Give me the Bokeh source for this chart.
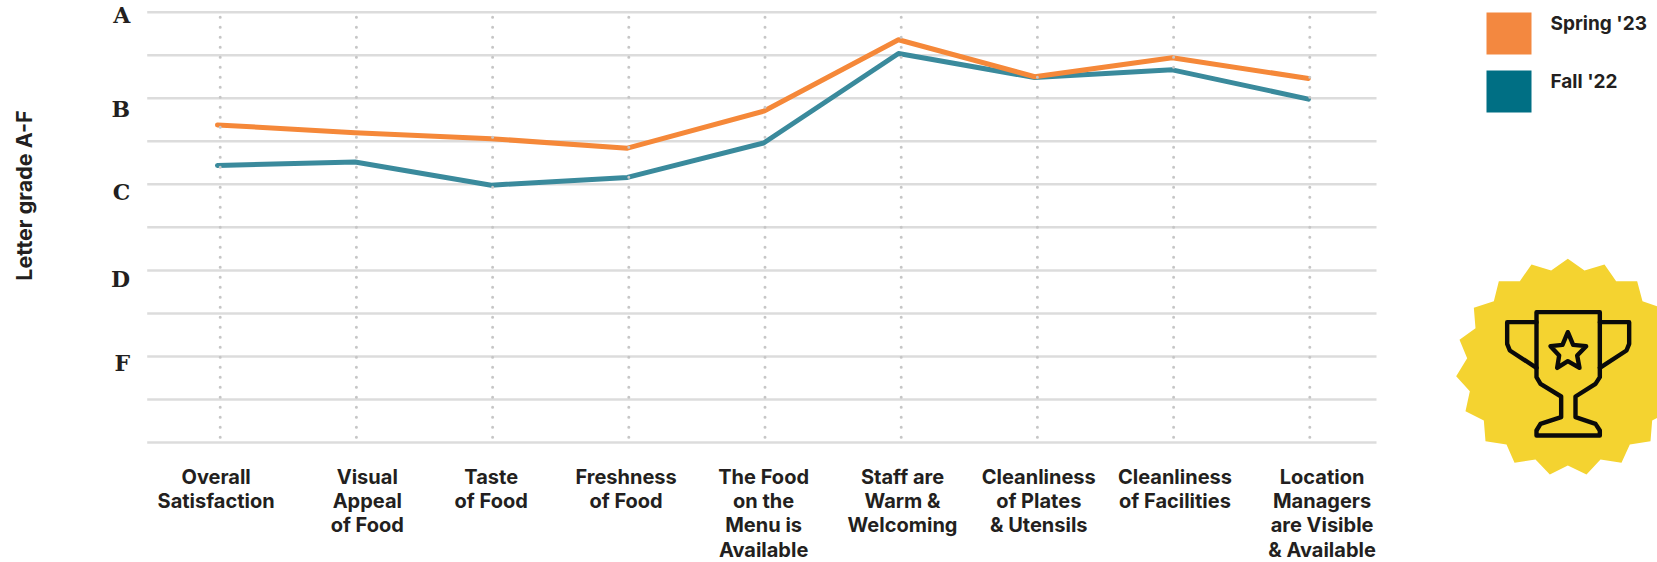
from math import pi
from bokeh.plotting import figure
from bokeh.embed import file_html
from bokeh.resources import INLINE
from bokeh.models import LinearAxis, FixedTicker, Range1d, Label

categories = ["Overall\nSatisfaction", "Visual\nAppeal\nof Food", "Taste\nof Food", "Freshness\nof Food",
              "The Food\non the\nMenu is\nAvailable", "Staff are\nWarm &\nWelcoming",
              "Cleanliness\nof Plates\n& Utensils", "Cleanliness\nof Facilities",
              "Location\nManagers\nare Visible\n& Available"]
category_x = [0, 1, 2, 3, 4, 5, 6, 7, 8]
label_x = [-0.03, 1.08, 1.99, 2.98, 3.99, 5.01, 6.01, 7.01, 8.09]
line_x = [-0.02, 0.99, 1.99, 2.99, 3.99, 4.98, 5.98, 6.99, 7.99]
spring_23 = [2.69, 2.60, 2.53, 2.42, 2.85, 3.68, 3.25, 3.47, 3.23]
fall_22 = [2.22, 2.26, 1.99, 2.08, 2.48, 3.52, 3.24, 3.33, 2.99]
grid_values = [4, 3.5, 3, 2.5, 2, 1.5, 1, 0.5, 0, -0.5, -1]
letter_ticks = [4.07, 2.98, 2.01, 1.01, 0.03]
letters = ["A", "B", "C", "D", "F"]
series_names = ["Spring '23", "Fall '22"]
series_colors = ["#F38840", "#006F84"]

# Badge and trophy outlines
badge = [(412,55),(462,90),(522,72),(557,122),(620,122),(636,182),(694,202),(689,263),(737,298),(714,353),
         (747,407),(707,452),(720,512),(665,540),(660,602),(598,612),(573,667),(510,657),(468,702),(412,675),
         (358,702),(315,657),(252,667),(228,612),(165,602),(160,540),(105,512),(118,452),(77,407),(110,353),
         (87,298),(135,263),(130,202),(190,182),(205,122),(268,122),(303,72),(362,90)]
cup = [(318,215),(508,215),(508,410),(495,430),(435,468),(435,530),(495,550),(508,570),(508,585),(318,585),
       (318,570),(330,550),(392,530),(392,468),(330,430),(318,410),(318,215)]
handle_l = [(318,245),(230,245),(230,310),(238,330),(318,382)]
handle_r = [(508,245),(596,245),(596,310),(588,330),(508,382)]
star = [(412,275),(428,313),(467,317),(440,345),(447,382),(412,362),(380,382),(386,345),(360,317),(396,313),(412,275)]

# page pixels <-> chart units
def ux(x_px):
    return (x_px - 219.7) / 136.2
def uy(y_px):
    return 4 - (y_px - 11.7) / 86.06
def trace(points):
    return [ux(1430 + a / 3) for a, _ in points], [uy(240 + b / 3) for _, b in points]

INK = "#231F20"
FONT = "Inter"
Y0, Y1 = uy(562), uy(0)

p = figure(width=1657, height=562, output_backend="svg", toolbar_location=None,
           x_range=(ux(0), ux(1657)), y_range=(Y0, Y1),
           x_axis_location=None, y_axis_location=None,
           min_border_left=0, min_border_right=0, min_border_top=0, min_border_bottom=0)
p.outline_line_color = None
p.background_fill_color = None
p.grid.visible = False

n = len(grid_values)
p.segment(x0=[ux(146.7)] * n, x1=[ux(1376)] * n, y0=grid_values, y1=grid_values,
          line_color="#DCDCDC", line_width=2.5)
p.line(line_x, fall_22, line_color="#3A8A9C", line_width=5, line_cap="round", line_join="round")
p.line(line_x, spring_23, line_color="#F58839", line_width=5, line_cap="round", line_join="round")
p.segment(x0=category_x, x1=category_x, y0=[3.94] * 9, y1=[-1] * 9, line_color="#C6C6C6",
          line_width=3, line_dash="0 10", line_cap="round")

xaxis = LinearAxis(ticker=FixedTicker(ticks=label_x), fixed_location=-1,
                   major_label_overrides=dict(zip(label_x, categories)))
xaxis.axis_line_color = None
xaxis.major_tick_line_color = None
xaxis.minor_tick_line_color = None
xaxis.major_label_standoff = 16
xaxis.major_label_text_font = FONT
xaxis.major_label_text_font_style = "bold"
xaxis.major_label_text_font_size = "20px"
xaxis.major_label_text_color = INK
xaxis.major_label_text_line_height = 1.02
p.add_layout(xaxis, "below")

p.extra_y_ranges["letters"] = Range1d(Y0 + 0.105, Y1 + 0.105)
yaxis = LinearAxis(y_range_name="letters", ticker=FixedTicker(ticks=letter_ticks), fixed_location=ux(146.7),
                   major_label_overrides=dict(zip(letter_ticks, letters)))
yaxis.axis_line_color = None
yaxis.major_tick_line_color = None
yaxis.minor_tick_line_color = None
yaxis.major_label_standoff = 11
yaxis.major_label_text_font = "DejaVu Serif"
yaxis.major_label_text_font_style = "bold"
yaxis.major_label_text_font_size = "22px"
yaxis.major_label_text_color = INK
p.add_layout(yaxis, "left")

p.add_layout(Label(x=ux(23), y=uy(195), text="Letter grade A-F", angle=pi / 2, text_align="center",
                   text_baseline="middle", text_font=FONT, text_font_style="bold",
                   text_font_size="21.5px", text_color=INK))

bx, by = trace(badge)
p.patch(bx, by, fill_color="#F4D330", line_color=None)
for shape in (cup, handle_l, handle_r, star):
    sx, sy = trace(shape)
    p.line(sx, sy, line_color="#0A0A0A", line_width=4.4, line_join="round", line_cap="round")

p.quad(left=[ux(1486)] * 2, right=[ux(1531)] * 2, top=[uy(12), uy(70)], bottom=[uy(54), uy(112)],
       fill_color=series_colors, line_color=None)
p.text(x=[ux(1550)] * 2, y=[uy(23), uy(81)], text=series_names, text_baseline="middle",
       text_font={"value": FONT}, text_font_style="bold", text_font_size="19px", text_color=INK)

open("out.html", "w").write(file_html(p, INLINE))
